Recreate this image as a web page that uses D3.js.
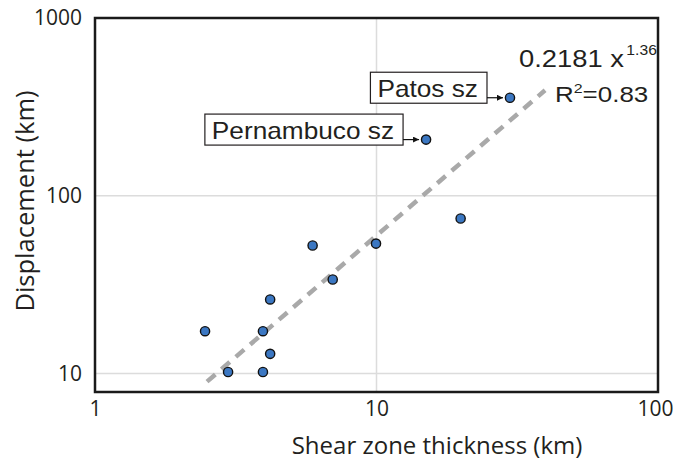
<!DOCTYPE html>
<html>
<head>
<meta charset="utf-8">
<script src="https://cdn.jsdelivr.net/npm/d3@7/dist/d3.min.js"></script>
<style>
  html, body { margin: 0; padding: 0; background: #fff; }
  svg { display: block; }
</style>
</head>
<body>
<svg id="chart" width="673" height="460"></svg>
<script>
// Shear zone thickness vs displacement (km), log–log
const thickness    = [2.46, 2.97, 3.95, 3.95, 4.19, 4.19, 5.93, 6.99, 9.96, 19.9, 15.0, 29.8];
const displacement = [17.3, 10.2, 10.2, 17.3, 26.1, 12.9, 52.5, 33.8, 53.8, 74.5, 207, 356];

// named shear zones: index into the arrays above
const namedZones = ["Pernambuco sz", "Patos sz"];
const namedIndex = [10, 11];

// power-law fit drawn between two ends
const fitX = [2.5, 39.7];
const fitY = [9.0, 392];
const fitCoef = "0.2181 x";
const fitExp = "1.36";
const fitR2 = "0.83";

const xTicks = [1, 10, 100];
const yTicks = [10, 100, 1000];
const xDomain = [1, 100];
const yDomain = [7.87, 1000];

(function draw() {
  const svg = d3.select("#chart");
  const mLeft = 95, mRight = 658, mTop = 18, mBottom = 392;

  const x = d3.scaleLog().domain(xDomain).range([mLeft, mRight]);
  const y = d3.scaleLog().domain(yDomain).range([mBottom, mTop]);

  const axisFont = "'Open Sans', 'Noto Sans', sans-serif";
  const labelFont = "'Liberation Sans', Arial, sans-serif";
  const ink = "#231f20";
  const svgLeft = svg.node().getBoundingClientRect().left;

  // stretch a text horizontally about its left edge by a factor
  function stretch(sel, x0, k) {
    sel.attr("transform", `translate(${x0},0) scale(${k},1) translate(${-x0},0)`);
  }
  const rightOf = sel => sel.node().getBoundingClientRect().right - svgLeft;

  // grid lines at interior decades
  const grid = svg.append("g").attr("stroke", "#dcdcdc").attr("stroke-width", 1.5);
  grid.selectAll("line.gx").data(xTicks.filter(d => d > xDomain[0] && d < xDomain[1]))
    .join("line").attr("class", "gx")
    .attr("x1", d => x(d)).attr("x2", d => x(d)).attr("y1", mTop).attr("y2", mBottom);
  grid.selectAll("line.gy").data(yTicks.filter(d => d > yDomain[0] && d < yDomain[1]))
    .join("line").attr("class", "gy")
    .attr("y1", d => y(d)).attr("y2", d => y(d)).attr("x1", mLeft).attr("x2", mRight);

  // axes (labels only, no tick marks)
  const xAxis = d3.axisBottom(x).tickValues(xTicks).tickFormat(d3.format("d")).tickSize(0).tickPadding(9);
  const gx = svg.append("g").attr("transform", `translate(0,${mBottom})`).call(xAxis);
  gx.select(".domain").remove();
  gx.selectAll("text").attr("font-family", axisFont).attr("font-size", 21).attr("fill", ink);
  // keep the last label inside the page edge
  gx.selectAll("text").filter(d => d === xDomain[1]).attr("text-anchor", "end").attr("dx", 15);

  const yAxis = d3.axisLeft(y).tickValues(yTicks).tickFormat(d3.format("d")).tickSize(0).tickPadding(13);
  const gy = svg.append("g").attr("transform", `translate(${mLeft},0)`).call(yAxis);
  gy.select(".domain").remove();
  gy.selectAll("text").attr("font-family", axisFont).attr("font-size", 21).attr("fill", ink);

  // axis titles
  svg.append("text")
    .attr("x", 437).attr("y", 454)
    .attr("text-anchor", "middle")
    .attr("font-family", axisFont).attr("font-size", 24).attr("fill", ink)
    .text("Shear zone thickness (km)");
  svg.append("text")
    .attr("transform", `translate(34,${(mTop + mBottom) / 2 - 4}) rotate(-90)`)
    .attr("text-anchor", "middle")
    .attr("font-family", axisFont).attr("font-size", 25.5).attr("fill", ink)
    .text("Displacement (km)");

  // fit line
  svg.append("line")
    .attr("x1", x(fitX[0])).attr("y1", y(fitY[0]))
    .attr("x2", x(fitX[1])).attr("y2", y(fitY[1]))
    .attr("stroke", "#a9a9a9").attr("stroke-width", 4.5)
    .attr("stroke-dasharray", "11,8");

  // data points
  const pts = d3.range(thickness.length).map(i => ({ t: thickness[i], d: displacement[i] }));
  svg.append("g").selectAll("circle").data(pts).join("circle")
    .attr("cx", d => x(d.t)).attr("cy", d => y(d.d)).attr("r", 4.6)
    .attr("fill", "#3b77c2").attr("stroke", "#111").attr("stroke-width", 1.4);

  // arrowhead marker
  svg.append("defs").append("marker")
    .attr("id", "arrow").attr("viewBox", "0 0 10 10")
    .attr("refX", 10).attr("refY", 5)
    .attr("markerWidth", 6).attr("markerHeight", 6)
    .attr("markerUnits", "userSpaceOnUse")
    .attr("orient", "auto")
    .append("path").attr("d", "M0,0 L10,5 L0,10 Z").attr("fill", "#111");

  // boxed labels with arrows to their points
  const labelG = svg.append("g");
  namedZones.forEach((name, k) => {
    const p = pts[namedIndex[k]];
    const px = x(p.t), py = y(p.d);
    const boxRight = px - 23;
    const g = labelG.append("g");
    const txt = g.append("text")
      .attr("y", py - 0.5)
      .attr("font-family", labelFont).attr("font-size", 23).attr("fill", ink)
      .text(name);
    const w = txt.node().getBoundingClientRect().width * 1.14;
    const textLeft = boxRight - 9 - w;
    txt.attr("x", textLeft);
    stretch(txt, textLeft, 1.14);
    const boxLeft = textLeft - 7;
    g.insert("rect", "text")
      .attr("x", boxLeft).attr("y", py - 25.5)
      .attr("width", boxRight - boxLeft).attr("height", 31)
      .attr("fill", "#fff").attr("stroke", ink).attr("stroke-width", 1.2);
    g.append("line")
      .attr("x1", boxRight).attr("y1", py).attr("x2", px - 7).attr("y2", py)
      .attr("stroke", "#111").attr("stroke-width", 1.2)
      .attr("marker-end", "url(#arrow)");
  });

  // fit equation
  const coef = svg.append("text")
    .attr("x", 519).attr("y", 67.5)
    .attr("font-family", labelFont).attr("font-size", 23).attr("fill", ink)
    .text(fitCoef);
  stretch(coef, 519, 1.19);
  const expX = rightOf(coef) + 2;
  const expT = svg.append("text")
    .attr("x", expX).attr("y", 55)
    .attr("font-family", labelFont).attr("font-size", 14).attr("fill", ink)
    .text(fitExp);
  stretch(expT, expX, 1.12);

  const r2 = svg.append("text")
    .attr("x", 555).attr("y", 102.5)
    .attr("font-family", labelFont).attr("font-size", 22).attr("fill", ink);
  r2.append("tspan").text("R");
  r2.append("tspan").attr("font-size", 13.5).attr("dy", -9).text("2");
  r2.append("tspan").attr("dy", 9).text("=" + fitR2);
  stretch(r2, 555, 1.18);

  // frame
  svg.append("rect")
    .attr("x", mLeft).attr("y", mTop)
    .attr("width", mRight - mLeft).attr("height", mBottom - mTop)
    .attr("fill", "none").attr("stroke", "#1a1a1a").attr("stroke-width", 2.5);
})();
</script>
</body>
</html>
